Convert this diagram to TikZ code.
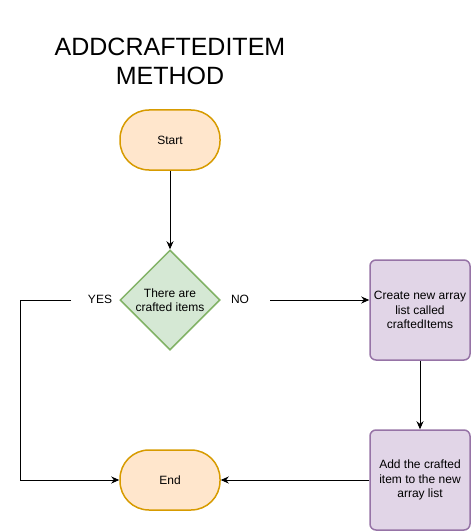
\documentclass[tikz,border=0pt]{standalone}
\usepackage{fontspec}
\setmainfont{Liberation Sans}
\usetikzlibrary{shapes.geometric,arrows.meta}
\definecolor{orfill}{HTML}{FFE6CC}
\definecolor{orline}{HTML}{D79B00}
\definecolor{grfill}{HTML}{D5E8D4}
\definecolor{grline}{HTML}{82B366}
\definecolor{pufill}{HTML}{E1D5E7}
\definecolor{puline}{HTML}{9673A6}
\tikzset{
  term/.style={draw=orline, fill=orfill, line width=1.5pt, rounded corners=29pt,
    minimum width=100pt, minimum height=60pt, inner sep=0pt, font=\fontsize{12}{14}\selectfont},
  decide/.style={draw=grline, fill=grfill, line width=1.5pt, shape=diamond,
    minimum width=100pt, minimum height=100pt, inner sep=0pt, align=center,
    font=\fontsize{12}{14}\selectfont},
  procbox/.style={draw=puline, fill=pufill, line width=1.5pt, rounded corners=6pt,
    minimum width=100pt, minimum height=100pt, inner sep=0pt, align=center,
    font=\fontsize{12}{14.5}\selectfont},
  lbl/.style={font=\fontsize{12}{14}\selectfont, inner sep=0pt},
  conn/.style={line width=0.8pt, -{Stealth[length=8pt,width=7pt]}},
}
\begin{document}
\begin{tikzpicture}[x=1pt,y=-1pt]
\useasboundingbox (0,0) rectangle (472,532);
\node[align=center, font=\fontsize{25}{29}\selectfont, inner sep=0pt] (title) at (170,61) {ADDCRAFTEDITEM\\METHOD};
\node[term] (start) at (170,140) {Start};
\node[decide] (dec) at (170,300) {There are\\crafted items};
\node[procbox] (create) at (420,310) {Create new array\\list called\\craftedItems};
\node[procbox] (add) at (420,480) {Add the crafted\\item to the new\\array list};
\node[term] (end) at (170,480) {End};
\node[lbl] (yes) at (100,299) {YES};
\node[lbl] (no) at (240,299) {NO};
\coordinate (yesend) at (71,300);
\coordinate (nostart) at (270,300);
\draw[conn] (start) -- (dec);
\draw[conn] (nostart) -- (nostart -| create.west);
\draw[conn] (create) -- (add);
\draw[conn] (add) -- (end);
\draw[conn] (yesend) -- (20,300) |- (end.west);
\end{tikzpicture}
\end{document}
